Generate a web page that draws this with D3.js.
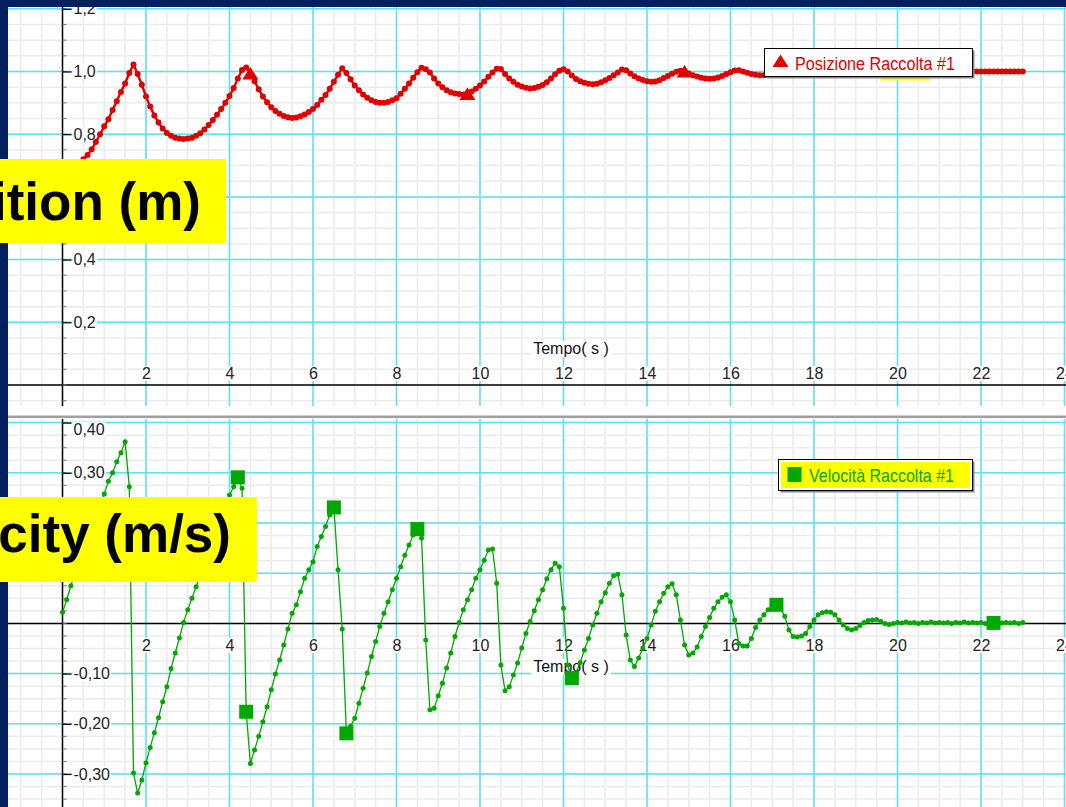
<!DOCTYPE html>
<html>
<head>
<meta charset="utf-8">
<script src="https://cdn.jsdelivr.net/npm/d3@7"></script>
<style>
  body { margin: 0; background: #021f5e; }
  svg { display: block; }
  text { font-family: 'Liberation Sans', Arial, sans-serif; }
</style>
</head>
<body>
<div id="chart"></div>
<script>
// sampling interval of the logger (s)
const dt = 0.1

// Posizione (m), one value every 0.1 s from t = 0 to t = 23
const posizione = [
  0.677, 0.68, 0.686, 0.695, 0.707, 0.72, 0.734, 0.752, 0.775, 0.8,
  0.825, 0.848, 0.877, 0.905, 0.935, 0.962, 0.995, 1.022, 0.992, 0.958,
  0.92, 0.888, 0.86, 0.837, 0.818, 0.804, 0.795, 0.789, 0.786, 0.785,
  0.786, 0.789, 0.795, 0.803, 0.815, 0.829, 0.845, 0.862, 0.88, 0.9,
  0.922, 0.947, 0.978, 1.005, 1.013, 0.994, 0.969, 0.943, 0.92, 0.902,
  0.886, 0.874, 0.865, 0.858, 0.854, 0.852, 0.853, 0.857, 0.863, 0.871,
  0.88, 0.893, 0.91, 0.925, 0.945, 0.967, 0.99, 1.01, 0.995, 0.975,
  0.955, 0.94, 0.927, 0.916, 0.908, 0.903, 0.9, 0.9, 0.903, 0.908,
  0.915, 0.929, 0.945, 0.962, 0.98, 0.998, 1.012, 1.007, 0.997, 0.978,
  0.962, 0.95, 0.94, 0.934, 0.93, 0.928, 0.927, 0.928, 0.936, 0.945,
  0.955, 0.968, 0.983, 0.997, 1.009, 1.008, 0.992, 0.978, 0.967, 0.958,
  0.952, 0.948, 0.946, 0.947, 0.951, 0.957, 0.966, 0.978, 0.991, 1.002,
  1.007, 1.0, 0.987, 0.976, 0.969, 0.964, 0.961, 0.959, 0.961, 0.966,
  0.972, 0.979, 0.988, 0.997, 1.006, 1.004, 0.994, 0.985, 0.978, 0.973,
  0.969, 0.967, 0.968, 0.972, 0.979, 0.986, 0.993, 0.999, 1.002, 1.0,
  0.994, 0.988, 0.984, 0.98, 0.978, 0.977, 0.978, 0.981, 0.986, 0.992,
  0.998, 1.003, 1.004, 1.0, 0.996, 0.992, 0.99, 0.988, 0.988, 0.989,
  0.991, 0.994, 0.997, 0.999, 0.999, 0.997, 0.995, 0.992, 0.99, 0.989,
  0.989, 0.99, 0.992, 0.994, 0.996, 0.998, 0.999, 1.0, 1.0, 0.999,
  0.998, 0.997, 0.997, 0.997, 0.998, 0.999, 1.0, 1.0, 1.0, 1.0,
  1.0, 1.0, 1.0, 1.0, 1.0, 1.0, 1.0, 1.0, 1.0, 1.0,
  1.0, 1.0, 1.0, 1.0, 1.0, 1.0, 1.0, 1.0, 1.0, 1.0,
  1.0, 1.0, 1.0, 1.0, 1.0, 1.0, 1.0, 1.0, 1.0, 1.0,
  1.0
]

// Velocità (m/s), same time base
const velocita = [
  0.022, 0.047, 0.075, 0.1, 0.125, 0.15, 0.175, 0.195, 0.215, 0.237,
  0.258, 0.283, 0.3, 0.322, 0.34, 0.362, 0.272, -0.298, -0.338, -0.312,
  -0.278, -0.247, -0.218, -0.188, -0.156, -0.126, -0.09, -0.059, -0.029, 0.002,
  0.027, 0.05, 0.073, 0.097, 0.12, 0.143, 0.166, 0.189, 0.21, 0.232,
  0.256, 0.272, 0.291, 0.269, -0.176, -0.279, -0.252, -0.225, -0.196, -0.166,
  -0.132, -0.101, -0.073, -0.043, -0.011, 0.02, 0.037, 0.063, 0.09, 0.107,
  0.123, 0.153, 0.173, 0.193, 0.216, 0.231, 0.107, -0.011, -0.219, -0.205,
  -0.189, -0.159, -0.129, -0.099, -0.066, -0.036, -0.006, 0.02, 0.043, 0.067,
  0.09, 0.113, 0.136, 0.156, 0.176, 0.188, 0.17, -0.033, -0.172, -0.169,
  -0.144, -0.119, -0.089, -0.059, -0.026, 0.002, 0.027, 0.047, 0.067, 0.09,
  0.107, 0.126, 0.146, 0.148, 0.08, -0.083, -0.134, -0.126, -0.103, -0.079,
  -0.049, -0.02, 0.004, 0.025, 0.047, 0.067, 0.089, 0.107, 0.12, 0.113,
  0.03, -0.083, -0.109, -0.098, -0.078, -0.053, -0.03, -0.003, 0.02, 0.043,
  0.061, 0.08, 0.095, 0.098, 0.057, -0.023, -0.073, -0.086, -0.069, -0.049,
  -0.03, -0.003, 0.024, 0.043, 0.06, 0.073, 0.079, 0.057, 0.007, -0.043,
  -0.063, -0.059, -0.047, -0.026, -0.006, 0.012, 0.03, 0.043, 0.052, 0.057,
  0.043, 0.007, -0.04, -0.045, -0.045, -0.03, -0.008, 0.007, 0.017, 0.027,
  0.033, 0.037, 0.03, 0.014, -0.013, -0.026, -0.027, -0.025, -0.02, -0.006,
  0.007, 0.017, 0.021, 0.023, 0.022, 0.017, 0.007, -0.003, -0.01, -0.013,
  -0.01, -0.004, 0.002, 0.006, 0.007, 0.008, 0.004, 0, -0.002, 0,
  0.002, 0.001, 0.003, 0.001, 0.002, 0, 0.002, 0.001, 0.003, 0.001,
  0.002, 0.001, 0.002, 0, 0.002, 0.001, 0.003, 0.001, 0.002, 0.001,
  0.002, 0, 0.002, 0.001, 0.003, 0.001, 0.002, 0.001, 0.002, 0,
  0.002
]

// times (s) where the logger put its big markers
const markerPos = [4.5, 9.7, 14.9, 19.9]
const markerVel = [4.2, 4.4, 6.5, 6.8, 8.5, 12.2, 17.1, 22.3]

const xTicks = [2, 4, 6, 8, 10, 12, 14, 16, 18, 20, 22, 24]
const posTicks = [0.2, 0.4, 0.6, 0.8, 1.0, 1.2]
const velTicks = [0.4, 0.3, 0.2, 0.1, -0.1, -0.2, -0.3]

const width = 1066
const height = 807

const red = '#e00000'
const green = '#00a800'
const cyan = '#58e3ee'
const minorGrey = '#ebebeb'
const navy = '#021f5e'

const locale = d3.formatLocale({ decimal: ',', thousands: '.', grouping: [3], currency: ['', ''], minus: '-' })
const fmtPos = locale.format('.1f')
const fmtVel = locale.format('.2f')

const svg = d3
  .select('#chart')
  .append('svg')
  .attr('width', width)
  .attr('height', height)

svg.append('rect').attr('width', width).attr('height', height).attr('fill', '#fff')

// Scales
const xScale = d3.scaleLinear().domain([0, 24]).range([62.5, 1064.5])
const yPos = d3.scaleLinear().domain([0, 1.2]).range([385, 8.8])
const yVel = d3.scaleLinear().domain([-0.3, 0.4]).range([774, 422.6])

const defs = svg.append('defs')

function drawPanel(opts) {
  const { id, top, bottom, y, minorStep, majorStep, yLo, yHi } = opts

  defs.append('clipPath').attr('id', id)
    .append('rect').attr('x', 8).attr('y', top).attr('width', width - 8).attr('height', bottom - top)

  const g = svg.append('g').attr('clip-path', 'url(#' + id + ')')

  // minor grid
  const minorX = d3.range(-3, 50).map(k => k * 0.5)
  g.selectAll('.minor-x')
    .data(minorX)
    .enter()
    .append('line')
    .attr('x1', d => xScale(d)).attr('x2', d => xScale(d))
    .attr('y1', top).attr('y2', bottom)
    .attr('stroke', minorGrey).attr('stroke-width', 1.5)

  const minorY = d3.range(Math.round(yLo / minorStep), Math.round(yHi / minorStep) + 1).map(k => k * minorStep)
  g.selectAll('.minor-y')
    .data(minorY)
    .enter()
    .append('line')
    .attr('x1', 8).attr('x2', width)
    .attr('y1', d => y(d)).attr('y2', d => y(d))
    .attr('stroke', minorGrey).attr('stroke-width', 1.5)

  // major grid
  g.selectAll('.major-x')
    .data(xTicks)
    .enter()
    .append('line')
    .attr('x1', d => xScale(d)).attr('x2', d => xScale(d))
    .attr('y1', top).attr('y2', bottom)
    .attr('stroke', cyan).attr('stroke-width', 1.5)

  const majorY = d3.range(Math.round(yLo / majorStep), Math.round(yHi / majorStep) + 1)
    .map(k => k * majorStep)
    .filter(d => Math.abs(d) > 1e-9)
  g.selectAll('.major-y')
    .data(majorY)
    .enter()
    .append('line')
    .attr('x1', 8).attr('x2', width)
    .attr('y1', d => y(d)).attr('y2', d => y(d))
    .attr('stroke', cyan).attr('stroke-width', 1.5)

  // axis lines
  g.append('line')
    .attr('x1', xScale(0)).attr('x2', xScale(0))
    .attr('y1', top).attr('y2', bottom)
    .attr('stroke', '#000').attr('stroke-width', 1.5)
  g.append('line')
    .attr('x1', 8).attr('x2', width)
    .attr('y1', y(0)).attr('y2', y(0))
    .attr('stroke', '#000').attr('stroke-width', 1.5)

  // small ticks on the y axis at every minor step
  g.selectAll('.minor-tick')
    .data(minorY)
    .enter()
    .append('line')
    .attr('x1', xScale(0)).attr('x2', xScale(0) + 4)
    .attr('y1', d => y(d)).attr('y2', d => y(d))
    .attr('stroke', '#777').attr('stroke-width', 1)

  return g
}

function whiteBehind(sel) {
  sel.each(function() {
    const t = d3.select(this).select('text')
    const b = t.node().getBBox()
    d3.select(this)
      .insert('rect', 'text')
      .attr('x', b.x - 1)
      .attr('y', b.y + 1)
      .attr('width', b.width + 2)
      .attr('height', b.height - 2)
      .attr('fill', '#fff')
  })
}

function styleAxis(axisG) {
  axisG.select('.domain').remove()
  axisG.selectAll('line').attr('stroke', '#000').attr('stroke-width', 1.2)
  axisG.selectAll('text')
    .attr('fill', '#222')
    .style('font-size', '16px')
    .style('font-family', "'Liberation Sans', Arial, sans-serif")
  whiteBehind(axisG.selectAll('.tick'))
}

function timeLabel(g, yBase) {
  const lg = g.append('g')
  const t = lg.append('text')
    .attr('x', 571)
    .attr('y', yBase)
    .attr('text-anchor', 'middle')
    .attr('fill', '#111')
    .style('font-size', '16px')
    .text('Tempo( s )')
  const b = t.node().getBBox()
  lg.insert('rect', 'text')
    .attr('x', b.x - 2).attr('y', b.y + 1)
    .attr('width', b.width + 4).attr('height', b.height - 1)
    .attr('fill', '#fff')
}

// ---------------- Position panel ----------------
const gTop = drawPanel({ id: 'clip-top', top: 7, bottom: 406, y: yPos, minorStep: 0.05, majorStep: 0.2, yLo: -0.1, yHi: 1.25 })

timeLabel(gTop, 354)

const yAxisTop = d3.axisRight(yPos).tickValues(posTicks).tickSize(9).tickPadding(2).tickFormat(fmtPos)
gTop.append('g')
  .attr('transform', 'translate(' + xScale(0) + ',0)')
  .call(yAxisTop)
  .call(styleAxis)

const xAxisTop = d3.axisTop(xScale).tickValues(xTicks).tickSize(0).tickPadding(6)
gTop.append('g')
  .attr('transform', 'translate(0,' + yPos(0) + ')')
  .call(xAxisTop)
  .call(styleAxis)

const linePos = d3.line()
  .x((d, i) => xScale(i * dt))
  .y(d => yPos(d))

gTop.append('path')
  .datum(posizione)
  .attr('d', linePos)
  .attr('fill', 'none')
  .attr('stroke', red)
  .attr('stroke-width', 2.4)

gTop.selectAll('.pos-dot')
  .data(posizione)
  .enter()
  .append('circle')
  .attr('cx', (d, i) => xScale(i * dt))
  .attr('cy', d => yPos(d))
  .attr('r', 3)
  .attr('fill', red)

const triangle = 'M0,-6.5L8,6L-8,6Z'

// highlighted point hidden under the legend
const hl = markerPos[markerPos.length - 1]
gTop.append('rect')
  .attr('x', xScale(hl) - 13).attr('y', yPos(posizione[Math.round(hl / dt)]) - 8)
  .attr('width', 50).attr('height', 17)
  .attr('fill', '#ffff00')

gTop.selectAll('.pos-marker')
  .data(markerPos)
  .enter()
  .append('path')
  .attr('d', triangle)
  .attr('transform', d => 'translate(' + xScale(d) + ',' + yPos(posizione[Math.round(d / dt)]) + ')')
  .attr('fill', red)

// legend
const legTop = gTop.append('g').attr('transform', 'translate(764.5,48.5)')
legTop.append('rect').attr('x', 2).attr('y', 2).attr('width', 208).attr('height', 28).attr('fill', '#888')
legTop.append('rect').attr('width', 208).attr('height', 28).attr('fill', '#fff').attr('stroke', '#000').attr('stroke-width', 1)
legTop.append('path').attr('d', triangle).attr('transform', 'translate(16,12.5)').attr('fill', red)
legTop.append('text')
  .attr('x', 30.5).attr('y', 21)
  .attr('fill', red)
  .attr('textLength', 160)
  .attr('lengthAdjust', 'spacingAndGlyphs')
  .style('font-size', '18.5px')
  .text('Posizione Raccolta #1')

// ---------------- Velocity panel ----------------
const gBot = drawPanel({ id: 'clip-bot', top: 419, bottom: height, y: yVel, minorStep: 0.025, majorStep: 0.1, yLo: -0.4, yHi: 0.425 })

timeLabel(gBot, 672)

const yAxisBot = d3.axisRight(yVel).tickValues(velTicks).tickSize(9).tickPadding(2).tickFormat(fmtVel)
const yAxisBotG = gBot.append('g')
  .attr('transform', 'translate(' + xScale(0) + ',0)')
  .call(yAxisBot)
yAxisBotG.selectAll('.tick text').filter(d => d === 0.4).attr('dy', '0.75em')
yAxisBotG.call(styleAxis)

const xAxisBot = d3.axisBottom(xScale).tickValues(xTicks).tickSize(0).tickPadding(16)
gBot.append('g')
  .attr('transform', 'translate(0,' + yVel(0) + ')')
  .call(xAxisBot)
  .call(styleAxis)

const lineVel = d3.line()
  .x((d, i) => xScale(i * dt))
  .y(d => yVel(d))

gBot.append('path')
  .datum(velocita)
  .attr('d', lineVel)
  .attr('fill', 'none')
  .attr('stroke', green)
  .attr('stroke-width', 1.3)

gBot.selectAll('.vel-dot')
  .data(velocita)
  .enter()
  .append('circle')
  .attr('cx', (d, i) => xScale(i * dt))
  .attr('cy', d => yVel(d))
  .attr('r', 2.5)
  .attr('fill', green)

gBot.selectAll('.vel-marker')
  .data(markerVel)
  .enter()
  .append('rect')
  .attr('x', d => xScale(d) - 7)
  .attr('y', d => yVel(velocita[Math.round(d / dt)]) - 7)
  .attr('width', 14)
  .attr('height', 14)
  .attr('fill', green)

const legBot = gBot.append('g').attr('transform', 'translate(778.5,459.5)')
legBot.append('rect').attr('x', 2).attr('y', 2).attr('width', 194).attr('height', 31).attr('fill', '#888')
legBot.append('rect').attr('width', 194).attr('height', 31).attr('fill', '#fff').attr('stroke', '#000').attr('stroke-width', 1)
legBot.append('rect').attr('x', 2.5).attr('y', 2.5).attr('width', 189).attr('height', 26).attr('fill', '#ffff00')
legBot.append('rect').attr('x', 9).attr('y', 7.5).attr('width', 14).attr('height', 15).attr('fill', green)
legBot.append('text')
  .attr('x', 30.5).attr('y', 22)
  .attr('fill', green)
  .attr('textLength', 145)
  .attr('lengthAdjust', 'spacingAndGlyphs')
  .style('font-size', '18.5px')
  .text('Velocità Raccolta #1')

// separator between the two graphs
svg.append('rect').attr('x', 8).attr('y', 415.5).attr('width', width - 8).attr('height', 2.5).attr('fill', '#a0a0a0')

// slide frame
svg.append('rect').attr('x', 0).attr('y', 0).attr('width', 8).attr('height', height).attr('fill', navy)
svg.append('rect').attr('x', 0).attr('y', 0).attr('width', width).attr('height', 7).attr('fill', navy)

// slide overlays: yellow captions, on top of the frame
svg.append('rect').attr('x', 0).attr('y', 159).attr('width', 226).attr('height', 84).attr('fill', '#ffff00')
svg.append('text')
  .attr('x', 201).attr('y', 220)
  .attr('text-anchor', 'end')
  .attr('fill', '#000')
  .style('font-size', '53px')
  .style('font-weight', 'bold')
  .text('Position (m)')

svg.append('rect').attr('x', 0).attr('y', 497).attr('width', 257).attr('height', 85).attr('fill', '#ffff00')
svg.append('text')
  .attr('x', 231).attr('y', 552)
  .attr('text-anchor', 'end')
  .attr('fill', '#000')
  .style('font-size', '53px')
  .style('font-weight', 'bold')
  .text('Velocity (m/s)')
</script>
</body>
</html>
